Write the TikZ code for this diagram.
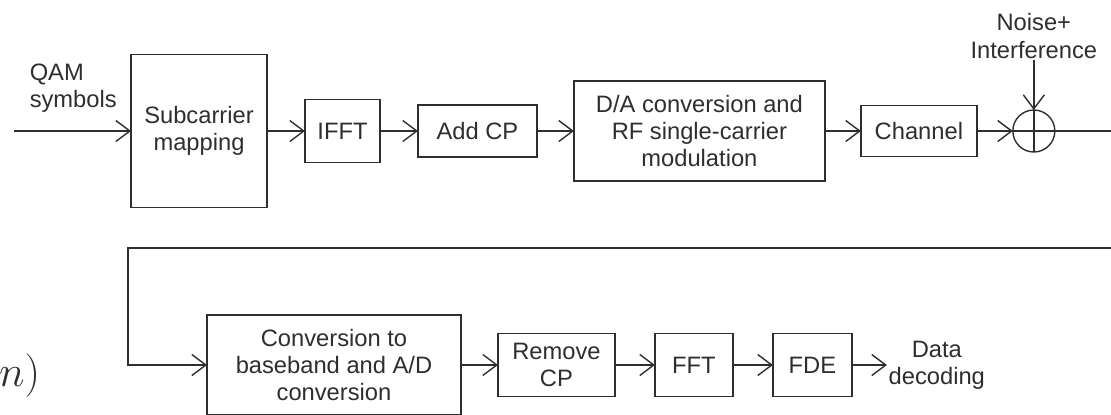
\documentclass[tikz,border=0pt]{standalone}
\usepackage[no-math]{fontspec}
\setmainfont{Liberation Sans}
\usepackage{amsmath}
\usetikzlibrary{arrows.meta,positioning}
\definecolor{ink}{HTML}{2E2E2E}

\begin{document}
\begin{tikzpicture}[x=0.02cm, y=-0.02cm, >={Straight Barb[length=2.8mm,width=4.2mm]},
  line width=0.8pt, draw=ink, text=ink,
  every node/.style={font=\fontsize{13.5}{15.6}\selectfont, text=ink, outer sep=0pt},
  blk/.style={rectangle, draw=ink, line width=0.8pt, align=center, inner sep=2pt},
  sumc/.style={circle, draw=ink, line width=0.8pt, minimum size=0.84cm, inner sep=0pt},
  lbl/.style={align=center, inner sep=1pt}]
  \useasboundingbox (0,0) rectangle (1111,414);
  \clip (0,0) rectangle (1111,414);
  % transmitter
  \node[blk, minimum width=2.72cm, minimum height=3.06cm] (sub) at (199,131) {Subcarrier\\mapping};
  \node[blk, minimum width=1.5cm, minimum height=1.26cm, right=0.76cm of sub] (ifft) {IFFT};
  \node[blk, minimum width=2.38cm, minimum height=1.04cm, right=0.76cm of ifft] (acp) {Add CP};
  \node[blk, minimum width=5.02cm, minimum height=2.0cm, right=0.74cm of acp] (da) {D/A conversion and\\RF single-carrier\\modulation};
  \node[blk, minimum width=2.32cm, minimum height=1.02cm, right=0.72cm of da] (chan) {Channel};
  \node[sumc, right=0.72cm of chan] (sum) {};
  \draw (sum.north) -- (sum.south) (sum.west) -- (sum.east);
  \node[lbl, above=1.0cm of sum] (noise) {Noise+\\Interference};
  \node[lbl, align=left, anchor=west] (qam) at (28,88) {QAM\\symbols};
  \coordinate (in) at (14,131);
  \coordinate (outr) at (1111,131);
  \draw[->] (in) -- (sub);
  \draw[->] (sub) -- (ifft);
  \draw[->] (ifft) -- (acp);
  \draw[->] (acp) -- (da);
  \draw[->] (da) -- (chan);
  \draw[->] (chan) -- (sum);
  \draw[->] (noise) -- (sum);
  \draw (sum) -- (outr);
  % receiver
  \node[blk, minimum width=5.08cm, minimum height=2.0cm] (conv) at (334,365) {Conversion to\\baseband and A/D\\conversion};
  \node[blk, minimum width=2.34cm, minimum height=1.26cm, right=0.74cm of conv] (rcp) {Remove\\CP};
  \node[blk, minimum width=1.56cm, minimum height=1.26cm, right=0.8cm of rcp] (fft) {FFT};
  \node[blk, minimum width=1.58cm, minimum height=1.26cm, right=0.8cm of fft] (fde) {FDE};
  \node[lbl, right=0.7cm of fde] (dec) {Data\\decoding};
  \coordinate (retr) at (1111,248);
  \coordinate (retl) at (128,248);
  \draw[->] (retr) -- (retl) |- (conv.west);
  \draw[->] (conv) -- (rcp);
  \draw[->] (rcp) -- (fft);
  \draw[->] (fft) -- (fde);
  \draw[->] (fde) -- (dec);
  \node[font=\fontsize{23}{27}\selectfont, anchor=base west, inner sep=0pt] (xn) at (-1,386) {$n)$};
\end{tikzpicture}
\end{document}
